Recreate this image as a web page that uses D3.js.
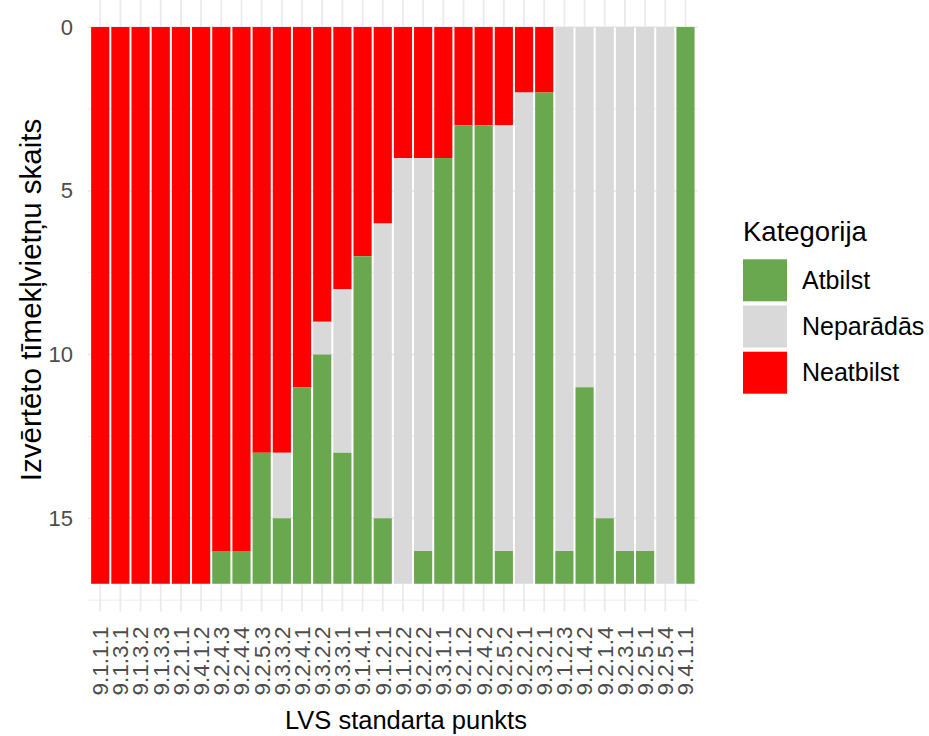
<!DOCTYPE html>
<html>
<head>
<meta charset="utf-8">
<script src="https://cdn.jsdelivr.net/npm/d3@7"></script>
<style>
  html, body { margin: 0; padding: 0; background: #fff; }
  svg { display: block; font-family: "Liberation Sans", Arial, sans-serif; }
</style>
</head>
<body>
<svg id="chart" width="929" height="736"></svg>
<script>
const categories = ["9.1.1.1","9.1.3.1","9.1.3.2","9.1.3.3","9.2.1.1","9.4.1.2","9.2.4.3","9.2.4.4","9.2.5.3","9.3.3.2",
  "9.2.4.1","9.3.2.2","9.3.3.1","9.1.4.1","9.1.2.1","9.1.2.2","9.2.2.2","9.3.1.1","9.2.1.2","9.2.4.2",
  "9.2.5.2","9.2.2.1","9.3.2.1","9.1.2.3","9.1.4.2","9.2.1.4","9.2.3.1","9.2.5.1","9.2.5.4","9.4.1.1"];
const neatbilst = [17,17,17,17,17,17,16,16,13,13,11,9,8,7,6,4,4,4,3,3,3,2,2,0,0,0,0,0,0,0];
const neparadas = [0,0,0,0,0,0,0,0,0,2,0,1,5,0,9,13,12,0,0,0,13,15,0,16,11,15,16,16,17,0];
const atbilst   = [0,0,0,0,0,0,1,1,4,2,6,7,4,10,2,0,1,13,14,14,1,0,15,1,6,2,1,1,0,17];
const seriesNames = ["Neatbilst","Neparādās","Atbilst"];
const legendOrder = ["Atbilst","Neparādās","Neatbilst"];
const yTicks = [0,5,10,15];
const yMinor = [2.5,7.5,12.5,17.5];

const colors = {"Atbilst":"#6AA84F","Neparādās":"#D9D9D9","Neatbilst":"#FF0000"};

const rows = categories.map((c,i)=>({cat:c, "Neatbilst":neatbilst[i], "Neparādās":neparadas[i], "Atbilst":atbilst[i]}));
const stacked = d3.stack().keys(seriesNames)(rows);

const svg = d3.select("#chart");
const panel = {left:88.1, right:697.6, top:-0.8, bottom:611.6};

const x = d3.scaleBand().domain(categories).range([panel.left, panel.right]).paddingInner(0.1).paddingOuter(0.15);
const y = d3.scaleLinear().domain([-0.85, 17.85]).range([panel.top, panel.bottom]);

const grid = svg.append("g");
grid.selectAll(".vmaj").data(categories).join("line")
  .attr("x1", d=>x(d)+x.bandwidth()/2).attr("x2", d=>x(d)+x.bandwidth()/2)
  .attr("y1", panel.top).attr("y2", panel.bottom)
  .attr("stroke", "#ebebeb").attr("stroke-width", 1.8);
grid.selectAll(".hmin").data(yMinor).join("line")
  .attr("x1", panel.left).attr("x2", panel.right)
  .attr("y1", d=>y(d)).attr("y2", d=>y(d))
  .attr("stroke", "#ebebeb").attr("stroke-width", 0.9);
grid.selectAll(".hmaj").data(yTicks).join("line")
  .attr("x1", panel.left).attr("x2", panel.right)
  .attr("y1", d=>y(d)).attr("y2", d=>y(d))
  .attr("stroke", "#ebebeb").attr("stroke-width", 1.8);

svg.append("g").selectAll("g").data(stacked).join("g")
  .attr("fill", s=>colors[s.key])
  .selectAll("rect").data(s=>s).join("rect")
  .attr("x", d=>x(d.data.cat))
  .attr("width", x.bandwidth())
  .attr("y", d=>y(d[0]))
  .attr("height", d=>y(d[1])-y(d[0]));

// y axis labels
const yAxis = d3.axisLeft(y).tickValues(yTicks).tickSize(0).tickPadding(0);
const yg = svg.append("g").attr("transform", `translate(${panel.left-15},0)`).call(yAxis);
yg.select(".domain").remove();
yg.selectAll("text").attr("fill", "#4D4D4D").style("font-size", "22px")
  .style("font-family", '"Liberation Sans", Arial, sans-serif');

// x axis labels
const xAxis = d3.axisBottom(x).tickSize(0).tickPadding(0);
const xg = svg.append("g").attr("transform", `translate(0,${panel.bottom+15})`).call(xAxis);
xg.select(".domain").remove();
xg.selectAll("text")
  .attr("fill", "#4D4D4D").style("font-size", "22.5px")
  .style("font-family", '"Liberation Sans", Arial, sans-serif')
  .attr("transform", "rotate(-90)")
  .attr("text-anchor", "end")
  .attr("x", 0).attr("y", 0).attr("dy", "0.35em");

// axis titles
svg.append("text").attr("x", 406).attr("y", 729)
  .attr("text-anchor", "middle").style("font-size", "25.5px").attr("fill", "#000")
  .text("LVS standarta punkts");
svg.append("text").attr("transform", `translate(41,300) rotate(-90)`)
  .attr("text-anchor", "middle").style("font-size", "29.5px").attr("fill", "#000")
  .text("Izvērtēto tīmekļvietņu skaits");

// legend
const lg = svg.append("g");
lg.append("text").attr("x", 743).attr("y", 241).style("font-size", "27.5px").attr("fill", "#000").text("Kategorija");
const keyTop = 259.3, keyStep = 46.2, keyW = 44, keyH = 42;
const items = lg.selectAll(".item").data(legendOrder).join("g")
  .attr("transform", (d,i)=>`translate(743,${keyTop + i*keyStep})`);
items.append("rect").attr("width", keyW).attr("height", keyH).attr("fill", d=>colors[d]);
items.append("text").attr("x", 59).attr("y", keyH/2).attr("dy", "0.35em")
  .style("font-size", "25px").attr("fill", "#000").text(d=>d);
</script>
</body>
</html>
